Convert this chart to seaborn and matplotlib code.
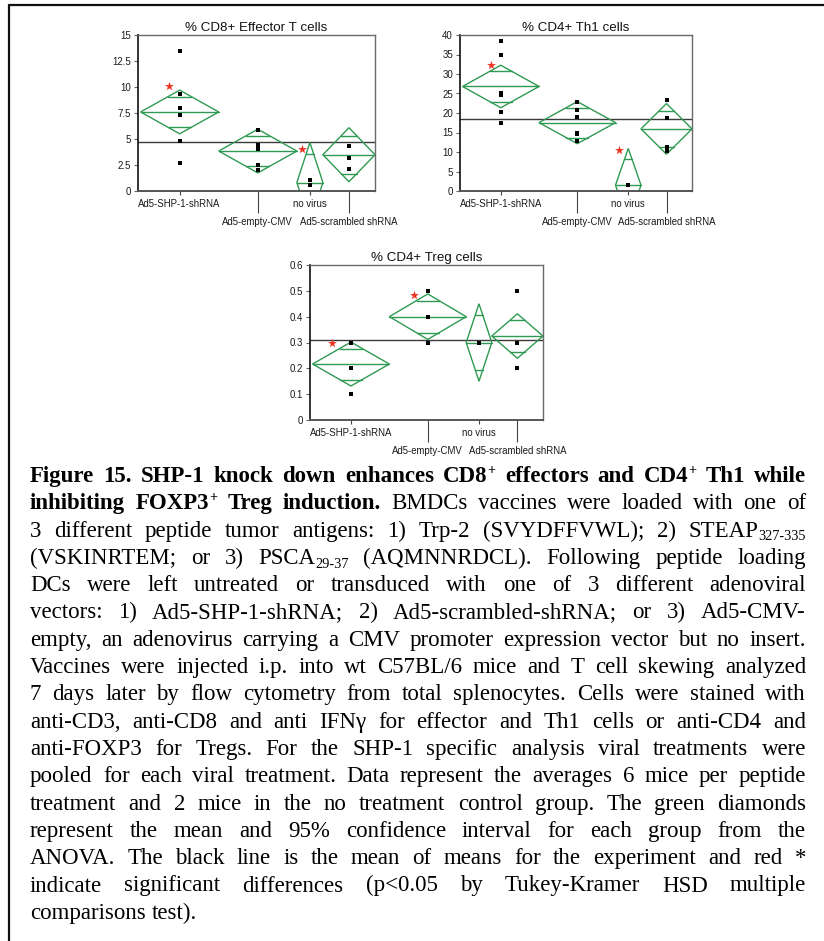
import matplotlib
matplotlib.use("Agg")
import matplotlib.pyplot as plt
from matplotlib.lines import Line2D
from matplotlib.patches import Polygon
import numpy as np
import pandas as pd
import seaborn as sns

# ---------------------------------------------------------------- data
groups = ["Ad5-SHP-1-shRNA", "Ad5-empty-CMV", "no virus", "Ad5-scrambled shRNA"]
group_n = [6, 6, 2, 4]

cd8_title = "% CD8+ Effector T cells"
cd8_shp = [13.5, 9.3, 8.0, 7.3, 4.8, 2.7]
cd8_cmv = [5.9, 4.4, 4.2, 4.05, 2.5, 2.0]
cd8_none = [1.05, 0.58]
cd8_scr = [4.3, 4.3, 3.2, 2.15]
cd8_ci = [2.1, 2.1, 3.85, 2.6]
cd8_star_group = [0, 2]
cd8_star_y = [10.1, 4.05]
cd8_yticks = [0, 2.5, 5, 7.5, 10, 12.5, 15]
cd8_ylabels = ["0", "2.5", "5", "7.5", "10", "12.5", "15"]

th1_title = "% CD4+ Th1 cells"
th1_shp = [38.5, 35.0, 25.1, 24.6, 20.2, 17.4]
th1_cmv = [22.8, 20.8, 19.1, 15.0, 14.6, 12.9]
th1_none = [1.5, 1.5]
th1_scr = [23.4, 18.7, 11.3, 10.3]
th1_ci = [5.45, 5.4, 9.4, 6.5]
th1_star_group = [0, 2]
th1_star_y = [32.4, 10.5]
th1_yticks = [0, 5, 10, 15, 20, 25, 30, 35, 40]
th1_ylabels = ["0", "5", "10", "15", "20", "25", "30", "35", "40"]

treg_title = "% CD4+ Treg cells"
treg_shp = [0.3, 0.3, 0.2, 0.2, 0.2, 0.1]
treg_cmv = [0.5, 0.5, 0.4, 0.4, 0.3, 0.3]
treg_none = [0.3, 0.3]
treg_scr = [0.5, 0.3, 0.3, 0.2]
treg_ci = [0.085, 0.088, 0.15, 0.086]
treg_star_group = [0, 1]
treg_star_y = [0.30, 0.485]
treg_yticks = [0, 0.1, 0.2, 0.3, 0.4, 0.5, 0.6]
treg_ylabels = ["0", "0.1", "0.2", "0.3", "0.4", "0.5", "0.6"]

# ---------------------------------------------------------------- style
W, H, DPI = 824, 941, 100
GREEN = "#2f9a52"
RED = "#ee3322"
sns.set_theme(style="white")
plt.rcParams["font.family"] = ["Liberation Sans", "DejaVu Sans"]

fig = plt.figure(figsize=(W / DPI, H / DPI), dpi=DPI)


def px_box(left, top, right, bottom):
    return [left / W, 1 - bottom / H, (right - left) / W, (bottom - top) / H]


def draw_panel(ax, title, samples, ci, star_group, star_y, star_dx,
               yticks, ylabels, ylim):
    n = np.array(group_n, dtype=float)
    starts = np.concatenate([[0.0], np.cumsum(n)[:-1]])
    centers = starts + n / 2

    rows = [(centers[g], v) for g, vals in enumerate(samples) for v in vals]
    df = pd.DataFrame(rows, columns=["x", "y"])

    # overall mean line
    ax.axhline(df["y"].mean(), color="#3a3a3a", lw=1.0, zorder=1)

    # means diamonds with overlap marks
    for g, vals in enumerate(samples):
        m = float(np.mean(vals))
        h = ci[g]
        x0, x1, c = starts[g], starts[g] + n[g], centers[g]
        ax.add_patch(Polygon([[x0, m], [c, m + h], [x1, m], [c, m - h]],
                             closed=True, fill=False, ec=GREEN, lw=1.0,
                             zorder=2))
        ax.plot([x0, x1], [m, m], color=GREEN, lw=1.0, zorder=2)
        d = h / np.sqrt(2)
        hw = (1 - 1 / np.sqrt(2)) * (x1 - x0) / 2
        for s in (1, -1):
            ax.plot([c - hw, c + hw], [m + s * d] * 2, color=GREEN, lw=1.0,
                    zorder=2)

    sns.scatterplot(data=df, x="x", y="y", marker="s", color="black", s=9,
                    linewidth=0, ax=ax, zorder=4)

    sdf = pd.DataFrame({"x": [centers[g] + dx for g, dx in zip(star_group, star_dx)],
                        "y": star_y})
    sns.scatterplot(data=sdf, x="x", y="y", marker="*", color=RED, s=45,
                    linewidth=0, ax=ax, zorder=5)

    ax.set_xlim(-0.2, float(n.sum()))
    ax.set_ylim(*ylim)
    ax.set_xlabel("")
    ax.set_ylabel("")
    ax.set_yticks(yticks)
    ax.set_yticklabels(ylabels)
    ax.set_xticks(centers[[0, 2]])
    ax.set_xticklabels([groups[0], groups[2]])
    ax.set_xticks(centers[[1, 3]], minor=True)
    ax.set_xticklabels([groups[1], groups[3]], minor=True)
    ax.tick_params(axis="x", which="major", length=3, width=0.8, pad=2.5,
                   color="#444444", labelsize=6.9, direction="out", bottom=True)
    ax.tick_params(axis="x", which="minor", length=16, width=0.8, pad=2.5,
                   color="#444444", labelsize=6.9, direction="out", bottom=True)
    ax.tick_params(axis="y", length=3, width=0.8, pad=2, color="#666666",
                   labelsize=7.0, direction="out", left=True)
    for lab in ax.get_xticklabels(which="both") + ax.get_yticklabels():
        lab.set_color("#1a1a1a")
    ax.set_title(title, fontsize=9.6, pad=3, color="#111111")
    ax.spines["left"].set_color("#111111")
    ax.spines["left"].set_linewidth(1.2)
    ax.spines["bottom"].set_color("#555555")
    ax.spines["bottom"].set_linewidth(1.4)
    for side in ("top", "right"):
        ax.spines[side].set_color("#6a6a6a")
        ax.spines[side].set_linewidth(1.0)
    ax.set_facecolor("white")


ax1 = fig.add_axes(px_box(138, 35, 375, 191))
ax2 = fig.add_axes(px_box(460, 35, 692, 191))
ax3 = fig.add_axes(px_box(310, 265, 543, 420))

draw_panel(ax1, cd8_title, [cd8_shp, cd8_cmv, cd8_none, cd8_scr], cd8_ci,
           cd8_star_group, cd8_star_y, [-0.8, -0.6], cd8_yticks, cd8_ylabels,
           (0, 15))
draw_panel(ax2, th1_title, [th1_shp, th1_cmv, th1_none, th1_scr], th1_ci,
           th1_star_group, th1_star_y, [-0.8, -0.7], th1_yticks, th1_ylabels,
           (0, 40))
draw_panel(ax3, treg_title, [treg_shp, treg_cmv, treg_none, treg_scr], treg_ci,
           treg_star_group, treg_star_y, [-1.45, -1.05], treg_yticks,
           treg_ylabels, (0, 0.6))

# outer frame (top and left rules)
fig.add_artist(Line2D([9 / W, 1.0], [1 - 5 / H, 1 - 5 / H],
                      transform=fig.transFigure, color="#111111", lw=1.6))
fig.add_artist(Line2D([9 / W, 9 / W], [0.0, 1 - 5 / H],
                      transform=fig.transFigure, color="#111111", lw=1.6))

# ---------------------------------------------------------------- caption
caption = [
    [("Figure 15. SHP-1 knock down enhances CD8", "b"), ("+", "bsup"),
     (" effectors and CD4", "b"), ("+", "bsup"), (" Th1 while", "b")],
    [("inhibiting FOXP3", "b"), ("+", "bsup"), (" Treg induction.", "b"),
     (" BMDCs vaccines were loaded with one of", "n")],
    [("3 different peptide tumor antigens: 1) Trp-2 (SVYDFFVWL); 2) STEAP", "n"),
     ("327-335", "sub")],
    [("(VSKINRTEM; or 3) PSCA", "n"), ("29-37", "sub"),
     (" (AQMNNRDCL). Following peptide loading", "n")],
    [("DCs were left untreated or transduced with one of 3 different adenoviral", "n")],
    [("vectors: 1) Ad5-SHP-1-shRNA; 2) Ad5-scrambled-shRNA; or 3) Ad5-CMV-", "n")],
    [("empty, an adenovirus carrying a CMV promoter expression vector but no insert.", "n")],
    [("Vaccines were injected i.p. into wt C57BL/6 mice and T cell skewing analyzed", "n")],
    [("7 days later by flow cytometry from total splenocytes. Cells were stained with", "n")],
    [("anti-CD3, anti-CD8 and anti IFNγ for effector and Th1 cells or anti-CD4 and", "n")],
    [("anti-FOXP3 for Tregs. For the SHP-1 specific analysis viral treatments were", "n")],
    [("pooled for each viral treatment. Data represent the averages 6 mice per peptide", "n")],
    [("treatment and 2 mice in the no treatment control group. The green diamonds", "n")],
    [("represent the mean and 95% confidence interval for each group from the", "n")],
    [("ANOVA. The black line is the mean of means for the experiment and red *", "n")],
    [("indicate significant differences (p<0.05 by Tukey-Kramer HSD multiple", "n")],
    [("comparisons test).", "n")],
]
SERIF = ["Liberation Serif", "DejaVu Serif"]
TEXT_LEFT, TEXT_RIGHT = 30, 806
FIRST_BASELINE, LINE_STEP = 482, 27.3


def split_words(runs):
    words = [[]]
    for text, style in runs:
        for i, part in enumerate(text.split(" ")):
            if i > 0 and words[-1]:
                words.append([])
            if part:
                words[-1].append((part, style))
    return [w for w in words if w]


def piece_style(style, size):
    weight = "bold" if style.startswith("b") else "normal"
    if style.endswith("sup"):
        return weight, size * 0.62, 0.36 * size
    if style == "sub":
        return weight, size * 0.62, -0.16 * size
    return weight, size, 0.0


renderer = fig.canvas.get_renderer()


def text_width(s, size, weight):
    t = fig.text(0, 0, s, fontsize=size, fontweight=weight, family=SERIF)
    w = t.get_window_extent(renderer).width
    t.remove()
    return w


def layout_caption(size):
    built = []
    for runs in caption:
        words = []
        for w in split_words(runs):
            pieces = []
            for s, st in w:
                weight, fs, dy = piece_style(st, size)
                pieces.append((s, weight, fs, dy, text_width(s, fs, weight)))
            words.append(pieces)
        built.append(words)
    return built


size = 16.5
avail = TEXT_RIGHT - TEXT_LEFT
built = layout_caption(size)
space_w = text_width("a a", size, "normal") - text_width("aa", size, "normal")
natural = [sum(p[4] for w in line for p in w) + space_w * (len(line) - 1)
           for line in built[:-1]]
if max(natural) > avail:
    size = size * avail / max(natural) * 0.995
    built = layout_caption(size)
    space_w = text_width("a a", size, "normal") - text_width("aa", size, "normal")

for li, line in enumerate(built):
    baseline = FIRST_BASELINE + li * LINE_STEP
    widths = [sum(p[4] for p in w) for w in line]
    if li < len(built) - 1 and len(line) > 1:
        gap = (avail - sum(widths)) / (len(line) - 1)
    else:
        gap = space_w
    x = TEXT_LEFT
    for w, ww in zip(line, widths):
        px = x
        for s, weight, fs, dy, pw in w:
            fig.text(px / W, 1 - (baseline - dy * DPI / 72) / H, s,
                     fontsize=fs, fontweight=weight, family=SERIF,
                     va="baseline", ha="left", color="black")
            px += pw
        x += ww + gap

fig.savefig("out.png", dpi=DPI)
